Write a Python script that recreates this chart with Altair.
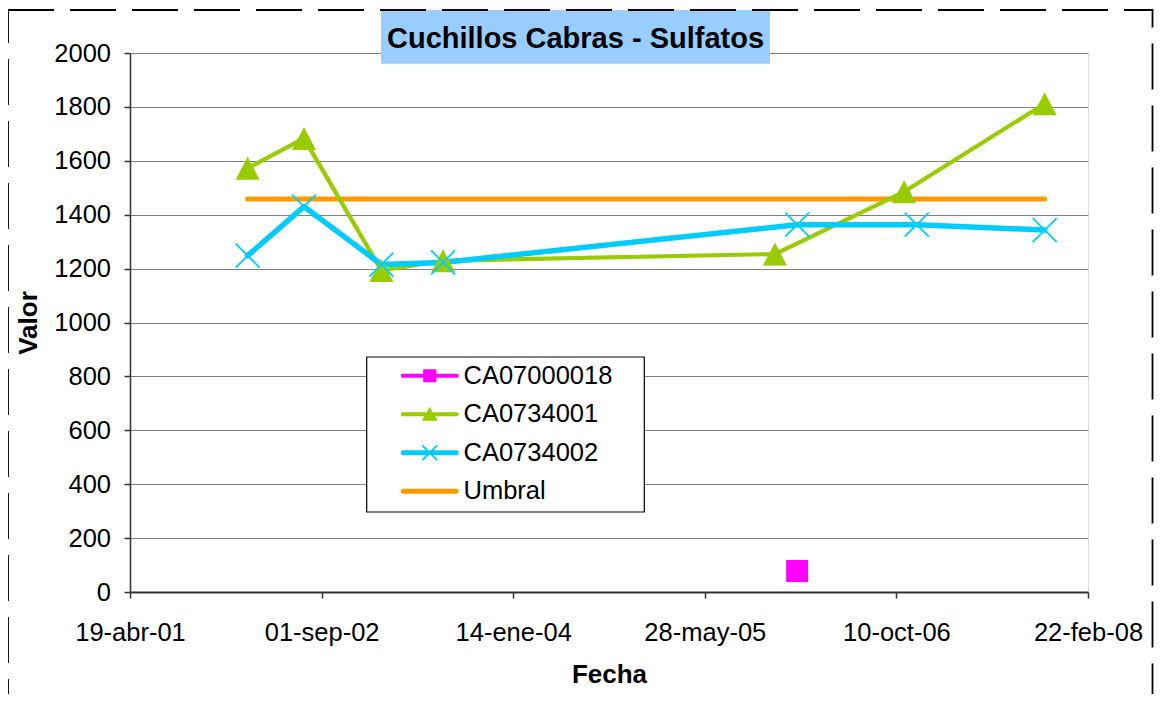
import json
import altair as alt
import pandas as pd

# ---------------- data ----------------
series_names = ["CA07000018", "CA0734001", "CA0734002", "Umbral"]
series_colors = ["#FF00FF", "#99CC00", "#00CCFF", "#FF9900"]

ca07000018_dates = ["2006-01-24"]
ca07000018_values = [78]

ca0734001_dates = ["2002-02-20", "2002-07-17", "2003-02-04", "2003-07-15",
                   "2005-11-27", "2006-10-30", "2007-11-01"]
ca0734001_values = [1572, 1683, 1193, 1229, 1254, 1485, 1812]

ca0734002_dates = ["2002-02-20", "2002-07-17", "2003-02-04", "2003-07-15",
                   "2006-01-24", "2006-12-02", "2007-11-01"]
ca0734002_values = [1248, 1430, 1215, 1223, 1363, 1363, 1343]

umbral_dates = ["2002-02-20", "2007-11-01"]
umbral_values = [1458, 1458]

x_tick_dates = ["2001-04-19", "2002-09-01", "2004-01-14",
                "2005-05-28", "2006-10-10", "2008-02-22"]
month_names = ["ene", "feb", "mar", "abr", "may", "jun",
               "jul", "ago", "sep", "oct", "nov", "dic"]
y_ticks = [0, 200, 400, 600, 800, 1000, 1200, 1400, 1600, 1800, 2000]

title_text = "Cuchillos Cabras - Sulfatos"
x_title = "Fecha"
y_title = "Valor"

# ---------------- helpers ----------------
def to_dt(s):
    y, m, d = (int(p) for p in s.split("-"))
    return alt.DateTime(year=y, month=m, date=d, utc=True)

def frame(name, dates, values):
    return pd.DataFrame({"serie": [name] * len(dates), "fecha": dates, "valor": values})

df_mag = frame(series_names[0], ca07000018_dates, ca07000018_values)
df_green = frame(series_names[1], ca0734001_dates, ca0734001_values)
df_blue = frame(series_names[2], ca0734002_dates, ca0734002_values)
df_umb = frame(series_names[3], umbral_dates, umbral_values)
df_all = pd.concat([df_mag, df_green, df_blue, df_umb], ignore_index=True)

FONT = "Liberation Sans"
W, H = 958, 539

label_expr = ("utcFormat(datum.value, '%d') + '-' + " + json.dumps(month_names) +
              "[utcmonth(datum.value)] + '-' + utcFormat(datum.value, '%y')")

x_axis = alt.Axis(values=[to_dt(d) for d in x_tick_dates], grid=False,
                  labelExpr=label_expr, labelFlush=False, labelOverlap=False,
                  domainColor="#333333", domainWidth=2, tickColor="#333333",
                  tickWidth=1.5, tickSize=6, labelPadding=22,
                  labelFont=FONT, labelFontSize=25.5, labelColor="black",
                  titleFont=FONT, titleFontSize=26, titleFontWeight="bold",
                  titleColor="black", titlePadding=16)
y_axis = alt.Axis(values=y_ticks, format="d", grid=True, gridColor="#808080", gridWidth=1,
                  domainColor="#333333", domainWidth=1.5, tickColor="#333333",
                  tickWidth=1.5, tickSize=6, labelPadding=13.5,
                  labelFont=FONT, labelFontSize=25.5, labelColor="black",
                  titleFont=FONT, titleFontSize=26, titleFontWeight="bold",
                  titleColor="black", titlePadding=12)

x_enc = alt.X("fecha:T", title=x_title, axis=x_axis,
              scale=alt.Scale(type="utc", domain=[to_dt(x_tick_dates[0]), to_dt(x_tick_dates[-1])], nice=False))
y_enc = alt.Y("valor:Q", title=y_title, axis=y_axis,
              scale=alt.Scale(domain=[y_ticks[0], y_ticks[-1]], nice=False))

def line(df, color, width):
    return alt.Chart(df).mark_line(color=color, strokeWidth=width, strokeCap="round",
                                   strokeJoin="round").encode(x=x_enc, y=y_enc)

umb_line = line(df_umb, series_colors[3], 5)
green_line = line(df_green, series_colors[1], 4.2)
blue_line = line(df_blue, series_colors[2], 5.5)

TRI = "M0,-0.96L1,0.96L-1,0.96Z"
XSHAPE = "M-1,-1L1,1M-1,1L1,-1"
green_pts = alt.Chart(df_green).mark_point(shape=TRI, size=576, filled=True, opacity=1,
                                           color=series_colors[1]).encode(x=x_enc, y=y_enc)
blue_pts = alt.Chart(df_blue).mark_point(shape=XSHAPE, size=576, filled=False, opacity=1,
                                         color=series_colors[2], strokeWidth=1.8).encode(x=x_enc, y=y_enc)
mag_pts = alt.Chart(df_mag).mark_point(shape="square", size=484, filled=True, opacity=1,
                                       color=series_colors[0]).encode(x=x_enc, y=y_enc)

# ---------------- legend symbols (line + marker) ----------------
L0, L1 = -1.0, 3.83
CX = (L0 + L1) / 2

def line_path(h):
    return (f"M{L0 + h:.3f},{-h:.3f}H{L1 - h:.3f}A{h:.3f},{h:.3f} 0 0 1 {L1 - h:.3f},{h:.3f}"
            f"H{L0 + h:.3f}A{h:.3f},{h:.3f} 0 0 1 {L0 + h:.3f},{-h:.3f}Z")

def sq_path(a):
    return f"M{CX - a:.3f},{-a:.3f}H{CX + a:.3f}V{a:.3f}H{CX - a:.3f}Z"

def tri_path(w, t, b):
    return f"M{CX:.3f},{t:.3f}L{CX + w:.3f},{b:.3f}L{CX - w:.3f},{b:.3f}Z"

def x_path(a, d):
    p1 = (f"M{CX - a + d:.3f},{-a - d:.3f}L{CX + a + d:.3f},{a - d:.3f}"
          f"L{CX + a - d:.3f},{a + d:.3f}L{CX - a - d:.3f},{-a + d:.3f}Z")
    p2 = (f"M{CX - a - d:.3f},{a - d:.3f}L{CX + a - d:.3f},{-a - d:.3f}"
          f"L{CX + a + d:.3f},{-a + d:.3f}L{CX - a + d:.3f},{a + d:.3f}Z")
    return p1 + p2

legend_shapes = [
    line_path(0.17) + sq_path(0.55),
    line_path(0.17) + tri_path(0.67, -0.62, 0.55),
    line_path(0.2) + x_path(0.62, 0.055),
    line_path(0.2),
]

legend = alt.Legend(title=None, orient="none", legendX=270, legendY=310, padding=0,
                    symbolSize=576, symbolStrokeWidth=0, symbolOpacity=1,
                    labelFont=FONT, labelFontSize=25.5, labelColor="black",
                    labelOffset=38, rowPadding=11.5)

legend_layer = alt.Chart(df_all).mark_point(filled=True, opacity=0).encode(
    x=x_enc, y=y_enc,
    color=alt.Color("serie:N", scale=alt.Scale(domain=series_names, range=series_colors), legend=legend),
    shape=alt.Shape("serie:N", scale=alt.Scale(domain=series_names, range=legend_shapes), legend=legend),
)

# ---------------- decorations ----------------
one = pd.DataFrame({"d": [0]})
border = alt.Chart(one).mark_rect(fillOpacity=0, stroke="black", strokeWidth=1.8,
                                  strokeDash=[46, 16]).encode(
    x=alt.value(-122), x2=alt.value(1022.5), y=alt.value(-43), y2=alt.value(720))
title_box = alt.Chart(one).mark_rect(fill="#99CCFF").encode(
    x=alt.value(251), x2=alt.value(640), y=alt.value(-43), y2=alt.value(10.7))
title_mark = alt.Chart(one).mark_text(font=FONT, fontSize=29, fontWeight="bold", color="black",
                                      align="center", baseline="alphabetic").encode(
    x=alt.value(445.5), y=alt.value(-5), text=alt.value(title_text))
legend_box = alt.Chart(one).mark_rect(fill="white", stroke="black", strokeWidth=1.2).encode(
    x=alt.value(236.7), x2=alt.value(514.3), y=alt.value(304), y2=alt.value(459))

chart = alt.layer(
    legend_box, umb_line, green_line, blue_line, green_pts, blue_pts, mag_pts,
    title_box, title_mark, border, legend_layer,
).properties(
    width=W, height=H,
    autosize=alt.AutoSizeParams(type="none"),
    padding={"left": 122, "top": 45, "right": 66, "bottom": 102},
).configure_view(stroke="#808080", strokeWidth=1.5).configure(background="white")

chart.save("out.html", embed_options={"renderer": "svg", "actions": False})
